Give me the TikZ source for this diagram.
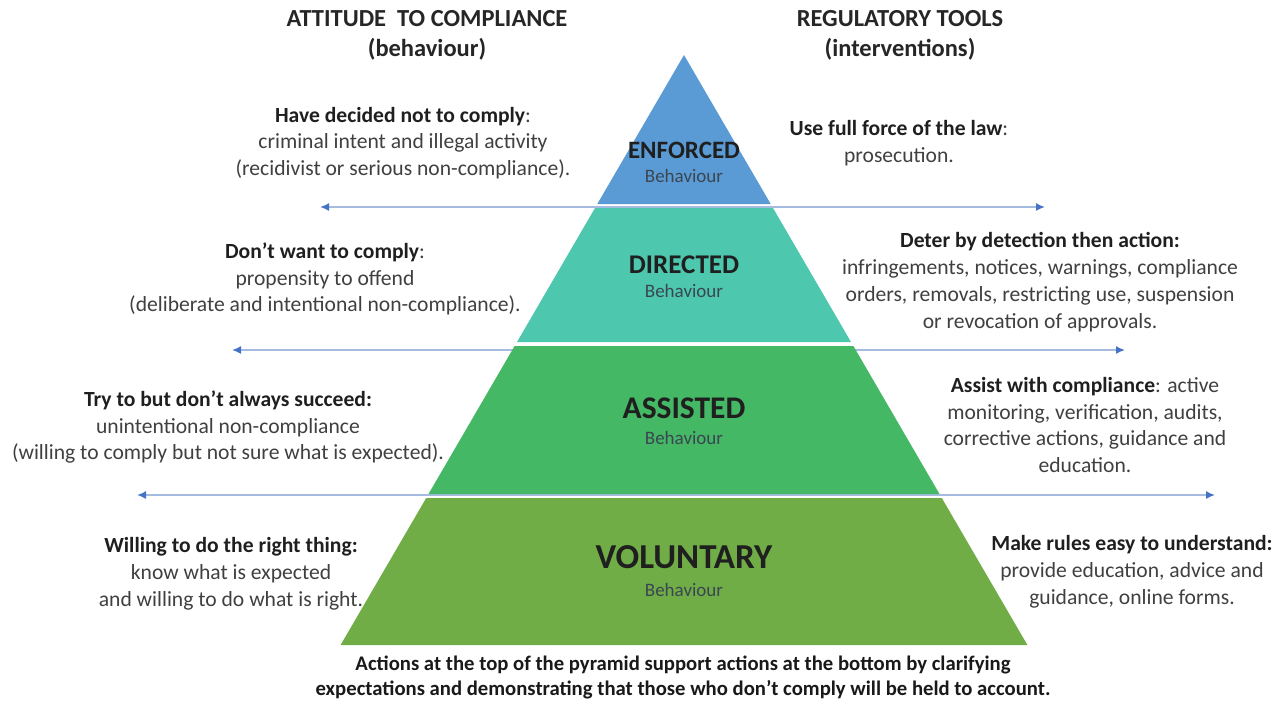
\documentclass[tikz,border=0pt]{standalone}
\usepackage{fontspec}
\setmainfont{Carlito}
\usetikzlibrary{arrows.meta}
\definecolor{cEnf}{HTML}{5B9BD5}
\definecolor{cDir}{HTML}{4DC8AE}
\definecolor{cAss}{HTML}{44B864}
\definecolor{cVol}{HTML}{70AD47}
\definecolor{arrline}{HTML}{A5BBE0}
\definecolor{arrtip}{HTML}{4472C4}
\definecolor{bodytxt}{HTML}{404040}
\definecolor{behtxt}{HTML}{3A4652}
\tikzset{
  header/.style={align=center, font=\fontsize{24.5}{30}\selectfont\bfseries, text=black!85},
  side/.style={align=center, font=\fontsize{21.6}{26.8}\selectfont, text=bodytxt},
  foot/.style={align=center, font=\fontsize{20.7}{25}\selectfont\bfseries, text=black!90},
  lvl/.style={text=black!88},
  beh/.style={font=\fontsize{19}{20}\selectfont, text=behtxt},
  twoway/.style={line width=1.6pt, draw=arrline,
    {Latex[length=9pt,width=8pt,color=arrtip]}-{Latex[length=9pt,width=8pt,color=arrtip]}}
}
\newcommand{\hd}[1]{\textbf{\color{black!88}#1}}
\begin{document}
\begin{tikzpicture}[x=1pt,y=-1pt]
\useasboundingbox (0,0) rectangle (1288,702);
\fill[white] (0,0) rectangle (1288,702);
% arrows (behind pyramid)
\coordinate (a1l) at (320,207); \coordinate (a1r) at (1045,207);
\coordinate (a2l) at (232,350); \coordinate (a2r) at (1125,350);
\coordinate (a3l) at (137,495); \coordinate (a3r) at (1215,495);
\draw[twoway] (a1l) -- (a1r);
\draw[twoway] (a2l) -- (a2r);
\draw[twoway] (a3l) -- (a3r);
% pyramid bands
\fill[cEnf] (684,55) -- (770.7,204) -- (597.3,204) -- cycle;
\fill[cDir] (595,208) -- (773,208) -- (851,342) -- (517,342) -- cycle;
\fill[cAss] (514.6,346) -- (853.4,346) -- (939.5,494) -- (428.5,494) -- cycle;
\fill[cVol] (426.2,498) -- (941.8,498) -- (1027.4,645) -- (340.6,645) -- cycle;
% level labels
\node[lvl, font=\fontsize{25}{27}\selectfont\bfseries] (enf) at (684,150) {ENFORCED};
\node[beh] (enfb) at (684,176) {Behaviour};
\node[lvl, font=\fontsize{27}{29}\selectfont\bfseries] (dir) at (684,265) {DIRECTED};
\node[beh] (dirb) at (684,291) {Behaviour};
\node[lvl, font=\fontsize{31.5}{33}\selectfont\bfseries] (ass) at (684,408) {ASSISTED};
\node[beh] (assb) at (684,438) {Behaviour};
\node[lvl, font=\fontsize{35}{37}\selectfont\bfseries] (vol) at (684,557) {VOLUNTARY};
\node[beh] (volb) at (684,590) {Behaviour};
% headers
\node[header] (hl) at (427,35) {ATTITUDE\ \ TO COMPLIANCE\\(behaviour)};
\node[header] (hr) at (900,35) {REGULATORY TOOLS\\(interventions)};
% left texts
\node[side] (l1) at (403,143) {\hd{Have decided not to comply}:\\criminal intent and illegal activity\\(recidivist or serious non-compliance).};
\node[side] (l2) at (325,279) {\hd{Don’t want to comply}:\\propensity to offend\\(deliberate and intentional non-compliance).};
\node[side] (l3) at (228,427) {\hd{Try to but don’t always succeed:}\\unintentional non-compliance\\(willing to comply but not sure what is expected).};
\node[side] (l4) at (231,574) {\hd{Willing to do the right thing:}\\know what is expected\\and willing to do what is right.};
% right texts
\node[side] (r1) at (899,143.5) {\hd{Use full force of the law}:\\prosecution.};
\node[side] (r2) at (1040,282) {\hd{Deter by detection then action:}\\infringements, notices, warnings, compliance\\orders, removals, restricting use, suspension\\or revocation of approvals.};
\node[side] (r3) at (1085,425) {\hd{Assist with compliance}: active\\monitoring, verification, audits,\\corrective actions, guidance and\\education.};
\node[side] (r4) at (1132,572) {\hd{Make rules easy to understand:}\\provide education, advice and\\guidance, online forms.};
% footer
\node[foot] (ft) at (683,677) {Actions at the top of the pyramid support actions at the bottom by clarifying\\expectations and demonstrating that those who don’t comply will be held to account.};
\end{tikzpicture}
\end{document}
